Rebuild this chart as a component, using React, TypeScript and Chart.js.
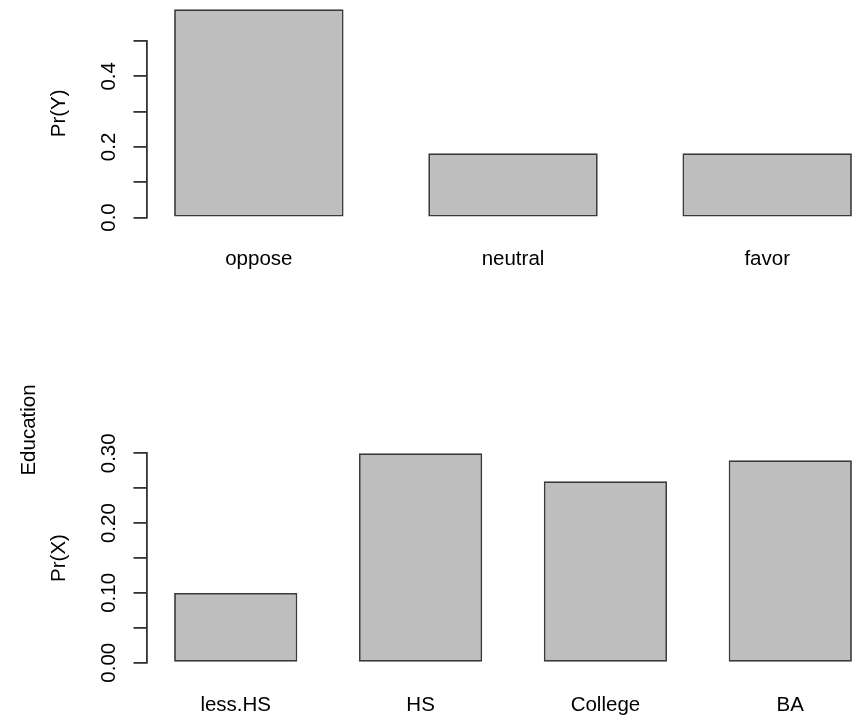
import React, { useEffect, useRef } from "react";
import { Chart, registerables } from "chart.js";

Chart.register(...registerables);

// ---- data ----
const stanceLabels = ["oppose", "neutral", "favor"];
const stanceValues = [0.59, 0.182, 0.182];
const stanceTicks = [0, 0.1, 0.2, 0.3, 0.4, 0.5];
const stanceTickLabels = ["0.0", "", "0.2", "", "0.4", ""];
const stanceYTitle = "Pr(Y)";

const eduLabels = ["less.HS", "HS", "College", "BA"];
const eduValues = [0.1, 0.3, 0.26, 0.29];
const eduTicks = [0, 0.05, 0.1, 0.15, 0.2, 0.25, 0.3];
const eduTickLabels = ["0.00", "", "0.10", "", "0.20", "", "0.30"];
const eduYTitle = "Pr(X)";
const eduSideTitle = "Education";

// ---- style ----
const FONT = "'Liberation Sans', Arial, Helvetica, sans-serif";
const FONT_SIZE = 20.5;
const AXIS_COLOR = "#333333";
const CANVAS_W = 879;

type SideItem = { text: string; x: number; where: "mid" | "aboveTop"; offset: number };

function makeSideTextPlugin(items: SideItem[], values: number[]) {
  return {
    id: "sideText",
    afterDraw(chart: any) {
      const ctx = chart.ctx as CanvasRenderingContext2D;
      const yScale = chart.scales.y;
      ctx.save();
      ctx.font = `${FONT_SIZE}px ${FONT}`;
      ctx.fillStyle = "#000";
      ctx.textAlign = "center";
      ctx.textBaseline = "alphabetic";
      for (const it of items) {
        let y: number;
        if (it.where === "mid") {
          y = yScale.getPixelForValue(0.5 * Math.max(...values));
        } else {
          y = chart.chartArea.top + it.offset;
        }
        ctx.save();
        ctx.translate(it.x, y);
        ctx.rotate(-Math.PI / 2);
        ctx.fillText(it.text, 0, 0);
        ctx.restore();
      }
      ctx.restore();
    },
  };
}

type PanelProps = {
  labels: string[];
  values: number[];
  ticks: number[];
  tickLabels: string[];
  height: number;
  top: number;
  padTop: number;
  xAxisHeight: number;
  yLabelPad: number;
  side: SideItem[];
};

function BarPanel(p: PanelProps) {
  const ref = useRef<HTMLCanvasElement>(null);
  useEffect(() => {
    const n = p.labels.length;
    const span = 1.5 * n - 0.5;
    const xmin = (-0.5 - 0.04 * span) / 1.5;
    const xmax = (1.5 * n - 1 + 0.04 * span) / 1.5;
    const chart = new Chart(ref.current as HTMLCanvasElement, {
      type: "bar",
      data: {
        datasets: [
          {
            data: p.values.map((v, i) => ({ x: i, y: v })),
            backgroundColor: "#BEBEBE",
            borderColor: "#3a3a3a",
            borderWidth: 1.8,
            borderSkipped: false,
            categoryPercentage: 1,
            barPercentage: 2 / 3,
            clip: false,
          } as any,
        ],
      },
      options: {
        animation: false,
        responsive: false,
        events: [],
        layout: { padding: { top: p.padTop, left: 0, right: 0, bottom: 0 } },
        plugins: { legend: { display: false }, tooltip: { enabled: false } },
        scales: {
          x: {
            type: "linear",
            offset: false,
            min: xmin,
            max: xmax,
            afterBuildTicks: (s: any) => {
              s.ticks = p.labels.map((_, i) => ({ value: i }));
            },
            afterFit: (s: any) => {
              s.height = p.xAxisHeight;
            },
            grid: { display: false, drawTicks: false, offset: false },
            border: { display: false },
            ticks: {
              autoSkip: false,
              maxRotation: 0,
              minRotation: 0,
              padding: 30,
              color: "#000",
              font: { family: FONT, size: FONT_SIZE },
              callback: (v: any) => p.labels[Math.round(Number(v))] ?? "",
            },
          },
          y: {
            type: "linear",
            min: p.ticks[0],
            max: p.ticks[p.ticks.length - 1],
            afterBuildTicks: (s: any) => {
              s.ticks = p.ticks.map((v) => ({ value: v }));
            },
            afterFit: (s: any) => {
              s.width = 147;
            },
            grid: {
              display: true,
              drawOnChartArea: false,
              drawTicks: true,
              tickLength: 13.5,
              color: AXIS_COLOR,
              lineWidth: 1.8,
            },
            border: { display: true, color: AXIS_COLOR, width: 1.8 },
            ticks: {
              autoSkip: false,
              minRotation: 90,
              maxRotation: 90,
              crossAlign: "center",
              padding: p.yLabelPad,
              color: "#000",
              font: { family: FONT, size: FONT_SIZE },
              callback: (_v: any, i: number) => p.tickLabels[i] ?? "",
            },
          },
        },
      } as any,
      plugins: [makeSideTextPlugin(p.side, p.values)],
    });
    return () => chart.destroy();
  }, []);
  return (
    <canvas
      ref={ref}
      width={CANVAS_W}
      height={p.height}
      style={{ position: "absolute", left: 0, top: p.top, display: "block" }}
    />
  );
}

export default function App() {
  return (
    <div
      style={{
        position: "fixed",
        left: 0,
        top: 0,
        width: 856,
        height: 717,
        overflow: "hidden",
        background: "#fff",
      }}
    >
      <BarPanel
        labels={stanceLabels}
        values={stanceValues}
        ticks={stanceTicks}
        tickLabels={stanceTickLabels}
        height={300}
        top={0}
        padTop={41}
        xAxisHeight={82.5}
        yLabelPad={9.7}
        side={[{ text: stanceYTitle, x: 64.5, where: "mid", offset: 0 }]}
      />
      <BarPanel
        labels={eduLabels}
        values={eduValues}
        ticks={eduTicks}
        tickLabels={eduTickLabels}
        height={417}
        top={300}
        padTop={153.3}
        xAxisHeight={54.3}
        yLabelPad={4}
        side={[
          { text: eduYTitle, x: 64.5, where: "mid", offset: 0 },
          { text: eduSideTitle, x: 35, where: "aboveTop", offset: -23.3 },
        ]}
      />
    </div>
  );
}
